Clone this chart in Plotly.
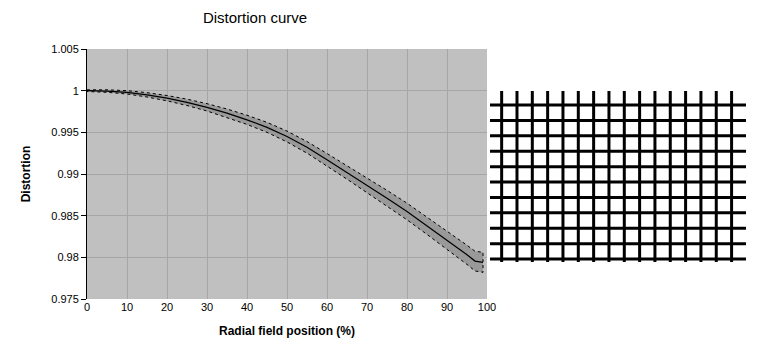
import plotly.graph_objects as go

# ---- data ----
radial_pos = [0, 5, 10, 15, 20, 25, 30, 35, 40, 45, 50, 55, 60, 65, 70, 75, 80, 85, 90, 95, 97, 99]
distortion = [1.0000, 0.99995, 0.9998, 0.9995, 0.9991, 0.9986, 0.9980, 0.9973, 0.9965, 0.9956, 0.9945,
              0.9932, 0.9917, 0.9902, 0.9887, 0.9871, 0.9855, 0.9838, 0.9821, 0.9803, 0.97955, 0.9794]
upper_band = [1.0001, 1.0001, 1.0000, 0.99976, 0.99942, 0.99898, 0.99844, 0.9978, 0.99705, 0.9962, 0.99515,
              0.9939, 0.99246, 0.99102, 0.98958, 0.98804, 0.9865, 0.98485, 0.9832, 0.98145, 0.98073, 0.9806]
lower_band = [0.9999, 0.9998, 0.9996, 0.99924, 0.99878, 0.99822, 0.99756, 0.9968, 0.99595, 0.995, 0.99385,
              0.9925, 0.99094, 0.98938, 0.98782, 0.98616, 0.9845, 0.98275, 0.981, 0.97915, 0.97837, 0.9782]

x_ticks = [0, 10, 20, 30, 40, 50, 60, 70, 80, 90, 100]
y_ticks = [0.975, 0.98, 0.985, 0.99, 0.995, 1.0, 1.005]
y_tick_labels = ["0.975", "0.98", "0.985", "0.99", "0.995", "1", "1.005"]

# distortion grid picture: column / row indices and their extents
grid_cols = list(range(16))
grid_rows = list(range(11))
grid_x_extent = [-0.76, 15.94]
grid_y_extent = [-0.91, 10.19]

fig = go.Figure()

# band polygon
fig.add_trace(go.Scatter(
    x=radial_pos + radial_pos[::-1],
    y=upper_band + lower_band[::-1],
    fill="toself", fillcolor="#999999",
    line=dict(color="black", width=1, dash="dot"),
    mode="lines", hoverinfo="skip", showlegend=False))

fig.add_trace(go.Scatter(
    x=radial_pos, y=distortion, mode="lines",
    line=dict(color="black", width=1.2), showlegend=False))

# grid picture
gx, gy = [], []
for c in grid_cols:
    gx += [c, c, None]
    gy += [grid_y_extent[0], grid_y_extent[1], None]
for r in grid_rows:
    gx += [grid_x_extent[0], grid_x_extent[1], None]
    gy += [r, r, None]
fig.add_trace(go.Scatter(x=gx, y=gy, mode="lines", xaxis="x2", yaxis="y2",
                         line=dict(color="black", width=3), showlegend=False,
                         hoverinfo="skip"))

font = "Liberation Sans, Arial, sans-serif"
# page body has an 8px margin, so the figure is laid out 8px in from the window
OFF = 8
W, H = 759 - OFF, 357 - OFF
ml, mt = 87 - OFF, 49 - OFF
mb = H - (299 - OFF)
mr = W - (746 - OFF)
pw = W - ml - mr
ph = H - mt - mb


def xdom(a, b):
    return [(a - OFF - ml) / pw, (b - OFF - ml) / pw]


def ydom(top, bottom):
    return [(H - mb - (bottom - OFF)) / ph, (H - mb - (top - OFF)) / ph]


fig.update_layout(
    width=W, height=H,
    margin=dict(l=ml, r=mr, t=mt, b=mb, autoexpand=False),
    paper_bgcolor="white", plot_bgcolor="rgba(0,0,0,0)",
    font=dict(family=font, size=11, color="black"),
    title=dict(text="Distortion curve", x=(255 - OFF) / W, xref="container", xanchor="center",
               y=1 - 4 / H, yanchor="top", pad=dict(t=0), font=dict(size=15, family=font)),
    xaxis=dict(domain=xdom(87, 487), range=[0, 100], tickvals=x_ticks, automargin=False,
               showgrid=True, gridcolor="#a6a6a6", gridwidth=1,
               showline=False, zeroline=False, ticks="", ticklen=0,
               title=dict(text="<b>Radial field position (%)</b>", font=dict(size=12), standoff=14)),
    yaxis=dict(domain=[0, 1], range=[0.975, 1.005], tickvals=y_ticks, ticktext=y_tick_labels,
               automargin=False,
               showgrid=True, gridcolor="#a6a6a6", gridwidth=1,
               showline=True, linecolor="black", linewidth=1, zeroline=False,
               ticks="outside", ticklen=5, tickcolor="black",
               title=dict(text="<b>Distortion</b>", font=dict(size=12), standoff=18)),
    xaxis2=dict(domain=xdom(490, 746), range=grid_x_extent, visible=False, anchor="y2"),
    yaxis2=dict(domain=ydom(91, 262), range=[grid_y_extent[1], grid_y_extent[0]],
                visible=False, anchor="x2"),
    shapes=[dict(type="rect", xref="x", yref="y", x0=0, x1=100, y0=0.975, y1=1.005,
                 fillcolor="#c0c0c0", line=dict(width=0), layer="below")],
)

fig.write_html("out.html")
